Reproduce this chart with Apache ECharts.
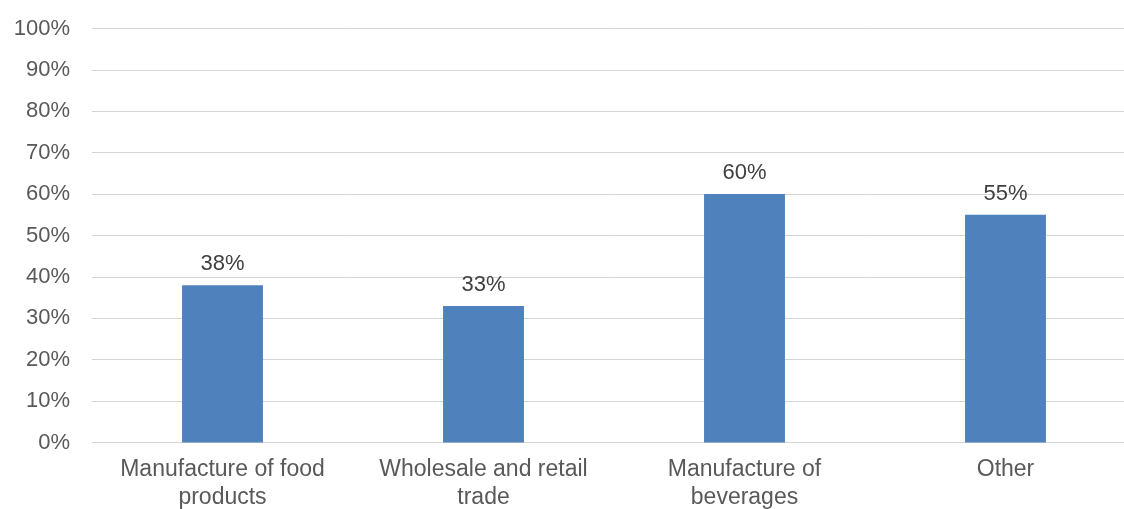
<!DOCTYPE html>
<html>
<head>
<meta charset="utf-8">
<script src="https://cdn.jsdelivr.net/npm/echarts@6/dist/echarts.min.js"></script>
<style>
  html, body { margin: 0; padding: 0; background: #ffffff; }
  #chart { width: 1124px; height: 509px; }
</style>
</head>
<body>
<div id="chart"></div>
<script>
// Sectors and their shares (percent)
const categories = [
  'Manufacture of food\nproducts',
  'Wholesale and retail\ntrade',
  'Manufacture of\nbeverages',
  'Other'
];
const shares = [38, 33, 60, 55];

const yMin = 0;
const yMax = 100;
const yStep = 10;

const font = '"Liberation Sans", Arial, sans-serif';
const chart = echarts.init(document.getElementById('chart'), null, { renderer: 'canvas' });

chart.setOption({
  animation: false,
  backgroundColor: '#ffffff',
  grid: {
    left: 92, top: 28.5, width: 1044, height: 414,
    outerBoundsMode: 'none', containLabel: false
  },
  xAxis: {
    type: 'category',
    data: categories,
    axisLine: { show: true, lineStyle: { color: '#d4d4d4', width: 1 } },
    axisTick: { show: false },
    axisLabel: {
      color: '#595959',
      fontFamily: font,
      fontSize: 23,
      lineHeight: 28,
      margin: 13,
      interval: 0
    }
  },
  yAxis: {
    type: 'value',
    min: yMin,
    max: yMax,
    interval: yStep,
    axisLine: { show: false },
    axisTick: { show: false },
    splitLine: { lineStyle: { color: '#d4d4d4', width: 1 } },
    axisLabel: {
      color: '#595959',
      fontFamily: font,
      fontSize: 22,
      margin: 22,
      formatter: v => v + '%'
    }
  },
  series: [{
    type: 'bar',
    data: shares,
    barWidth: '31%',
    itemStyle: { color: '#4f81bd' },
    label: {
      show: true,
      position: 'top',
      distance: 10,
      color: '#404040',
      fontFamily: font,
      fontSize: 22,
      formatter: p => p.value + '%'
    }
  }]
});
</script>
</body>
</html>
